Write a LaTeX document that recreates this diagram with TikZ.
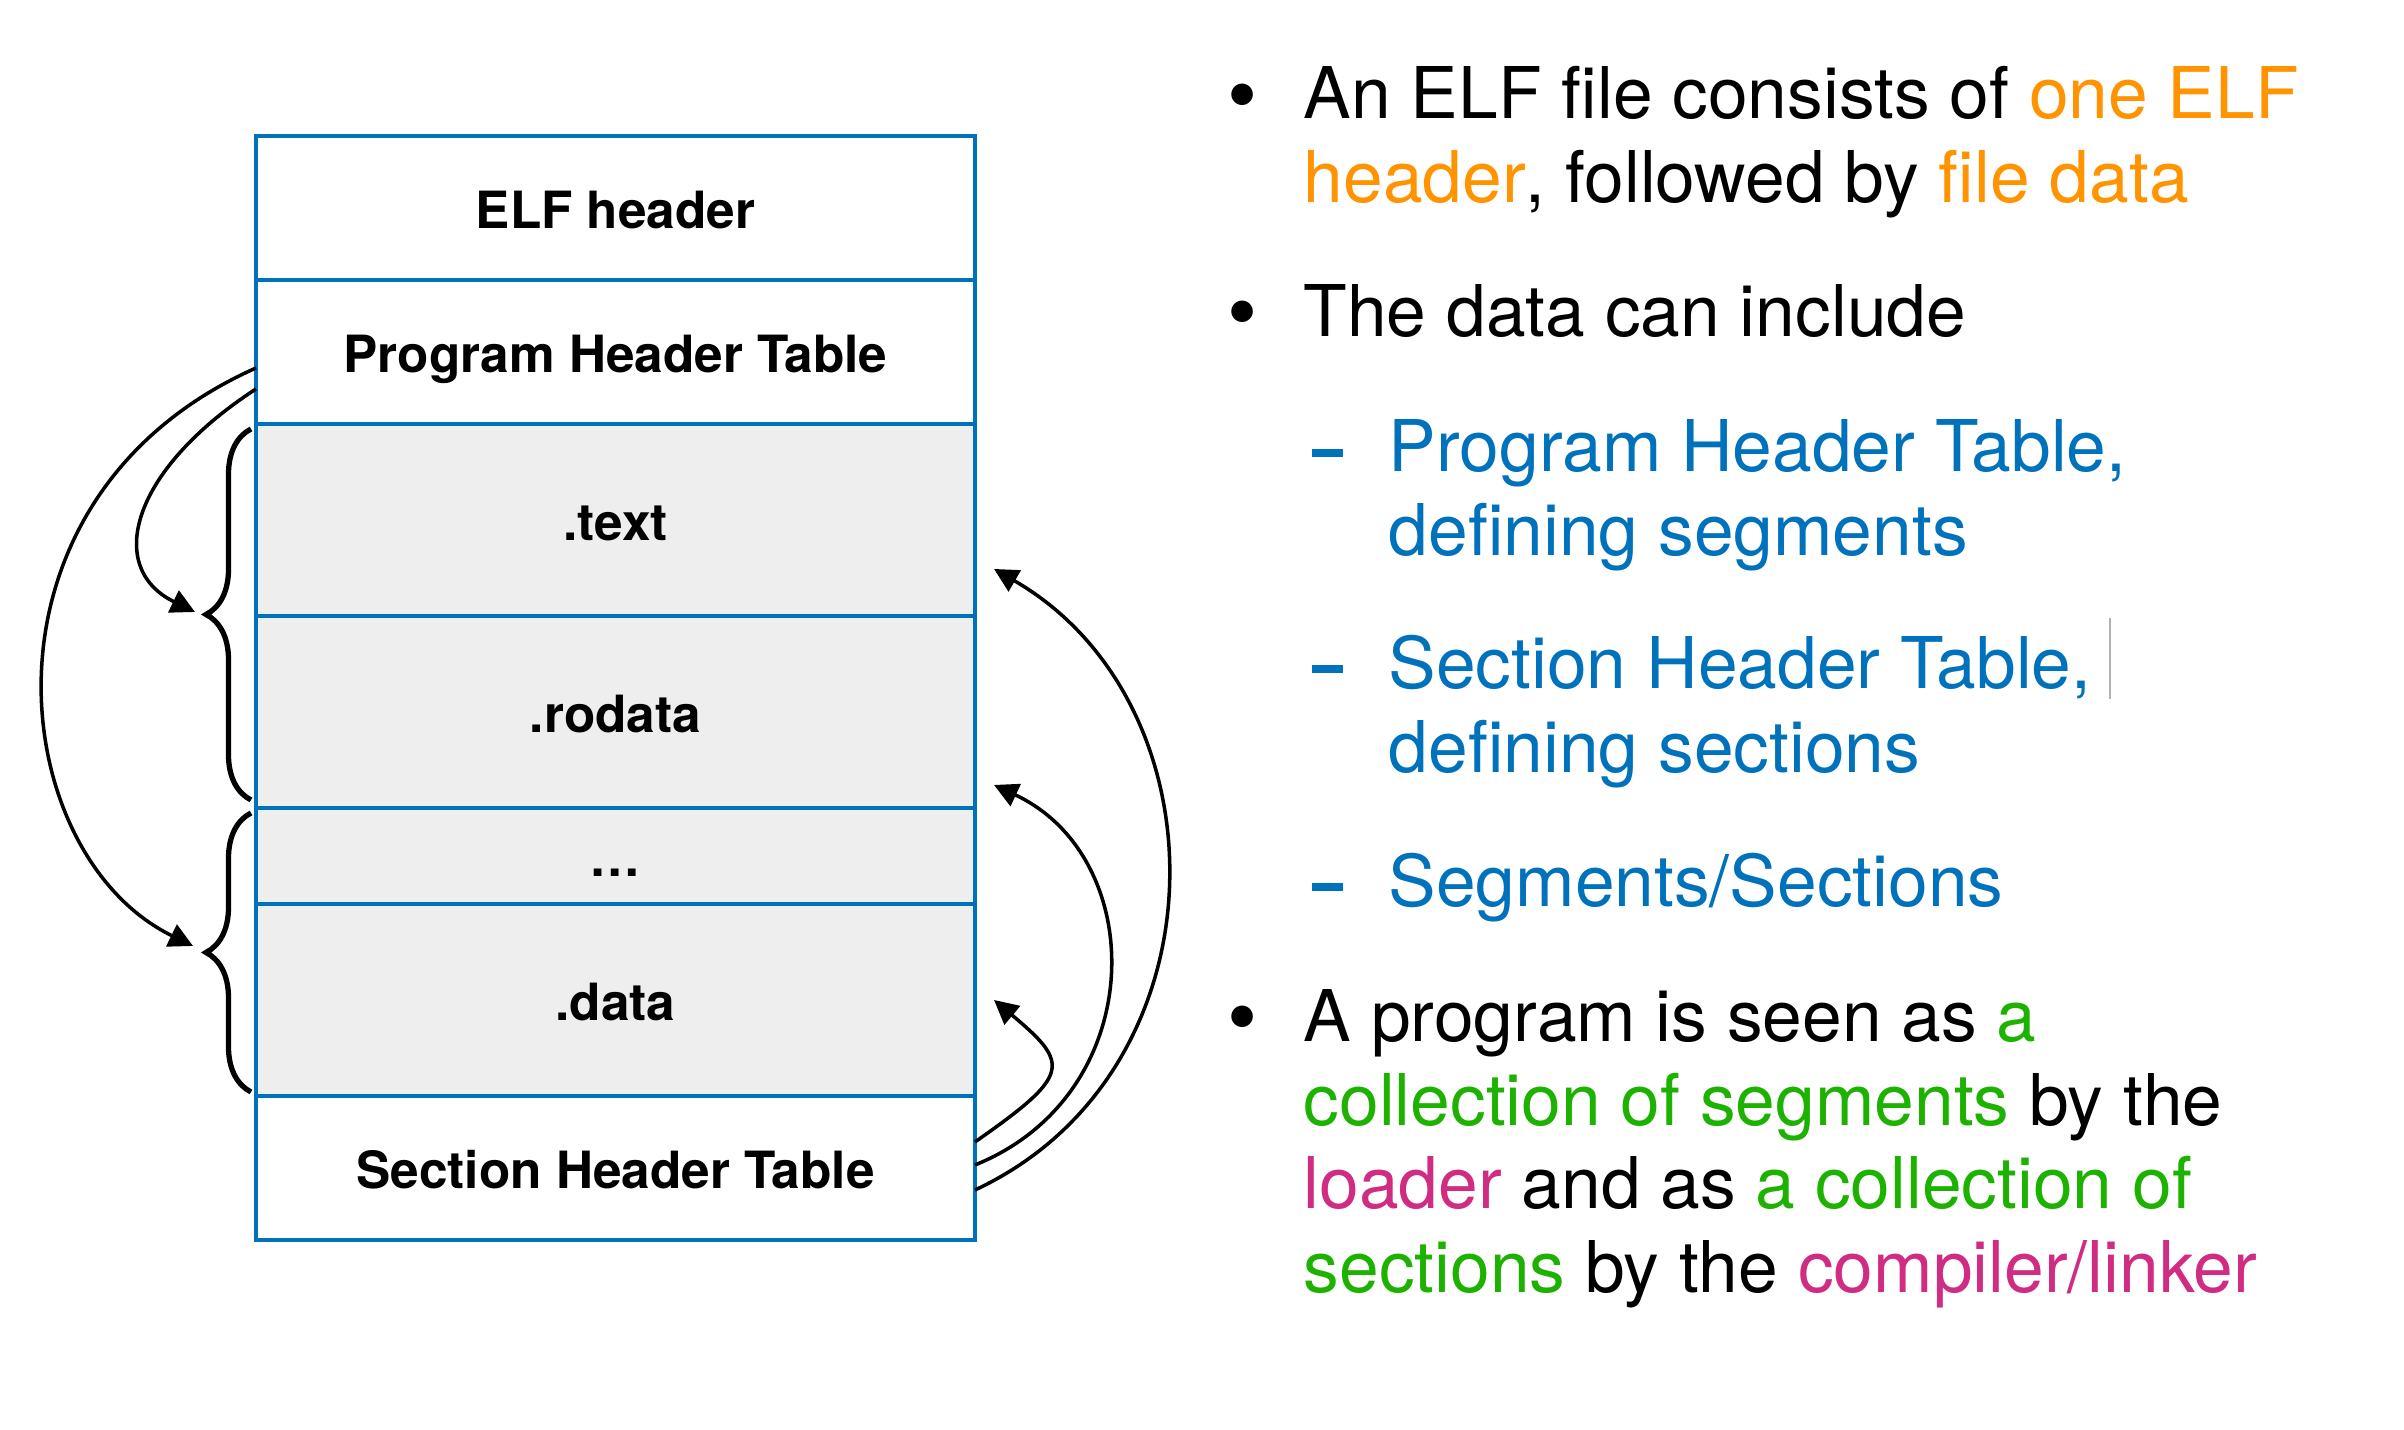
\documentclass[tikz,border=0pt]{standalone}
\usepackage{fontspec}
\setmainfont{TeX Gyre Heros}
\usetikzlibrary{positioning,arrows.meta,decorations.pathreplacing}
\definecolor{boxblue}{RGB}{0,114,188}
\definecolor{keyorange}{RGB}{255,147,0}
\definecolor{keygreen}{RGB}{29,177,0}
\definecolor{keypink}{RGB}{207,44,130}
\definecolor{secgray}{RGB}{238,238,238}
\tikzset{
  row/.style={draw=boxblue, line width=1.1pt, minimum width=7.19cm, inner sep=0pt, outer sep=0pt,
    text height=14.6pt, text depth=3.2pt, font=\fontsize{14.6}{17}\selectfont\bfseries},
  sec/.style={row, fill=secgray},
  arr/.style={-{Triangle[length=2.4mm,width=2.4mm]}, line width=1pt},
  curly/.style={decorate, decoration={brace, amplitude=4.5mm}, line width=1.5pt},
  body/.style={anchor=north west, inner sep=0pt, align=left, font=\fontsize{20.3}{23.8}\selectfont},
  dot/.style={inner sep=0pt, font=\fontsize{24.5}{24}\selectfont},
  subdash/.style={inner sep=0pt, text=boxblue},
}
\begin{document}
\begin{tikzpicture}
\useasboundingbox (0,0) rectangle (24.04,14.30);
%file layout
\node[row, minimum height=1.44cm] (elf) at (6.155,12.22) {ELF header};
\node[row, minimum height=1.44cm, below=0pt of elf] (pht) {Program Header Table};
\node[sec, minimum height=1.92cm, below=0pt of pht] (txt) {.text};
\node[sec, minimum height=1.92cm, below=0pt of txt] (rodata) {.rodata};
\node[sec, minimum height=0.96cm, below=0pt of rodata] (dots) {…};
\node[sec, minimum height=1.92cm, below=0pt of dots] (data) {.data};
\node[row, minimum height=1.44cm, below=0pt of data] (sht) {Section Header Table};
%segments
\draw[curly] ([xshift=-0.5mm,yshift=0.8mm]rodata.south west) -- ([xshift=-0.5mm,yshift=-0.5mm]txt.north west);
\draw[curly] ([xshift=-0.5mm,yshift=0.4mm]data.south west) -- ([xshift=-0.5mm,yshift=-0.5mm]dots.north west);
\coordinate (segtip) at (1.95,8.18);
\coordinate (sectip) at (1.93,4.84);
\draw[arr] ([yshift=-3.7mm]pht.west) to[out=213,in=154,out distance=1.5cm,in distance=1.0cm] (segtip);
\draw[arr] ([yshift=-1.6mm]pht.west) to[out=204,in=154,out distance=3.2cm,in distance=2.1cm] (sectip);
%sections
\draw[arr] ([yshift=-2.2mm]sht.east) to[out=25,in=-30,out distance=2.79cm,in distance=2.70cm] ([xshift=1.9mm,yshift=4.7mm]txt.south east);
\draw[arr] ([yshift=0.3mm]sht.east) to[out=22,in=-25,out distance=1.89cm,in distance=1.72cm] ([xshift=1.9mm,yshift=2.3mm]rodata.south east);
\draw[arr] ([yshift=2.6mm]sht.east) to[out=35,in=-40,out distance=1.17cm,in distance=1.0cm] ([xshift=1.9mm]data.east);
%text
\node[dot] (b1) at (12.43,13.26) {•};
\node[body] (p1) at (13.03,13.64) {An ELF file consists of \textcolor{keyorange}{one ELF}\\\textcolor{keyorange}{header}, followed by \textcolor{keyorange}{file data}};
\node[dot] (b2) at (12.43,11.09) {•};
\node[body] (p2) at (13.03,11.46) {The data can include};
\node[subdash] (d1) at (13.275,9.77) {\rule{3.1mm}{0.8mm}};
\node[body, text=boxblue] (p3) at (13.88,10.11) {Program Header Table,\\defining segments};
\node[subdash] (d2) at (13.275,7.61) {\rule{3.1mm}{0.8mm}};
\node[body, text=boxblue] (p4) at (13.88,7.95) {Section Header Table,\\defining sections};
\draw[gray!60, line width=0.4pt] (21.10,8.12) -- (21.10,7.31);
\node[subdash] (d3) at (13.275,5.43) {\rule{3.1mm}{0.8mm}};
\node[body, text=boxblue] (p5) at (13.88,5.77) {Segments/Sections};
\node[dot] (b3) at (12.43,4.04) {•};
\node[body] (p6) at (13.03,4.41) {A program is seen as \textcolor{keygreen}{a}\\\textcolor{keygreen}{collection of segments} by the\\\textcolor{keypink}{loader} and as \textcolor{keygreen}{a collection of}\\\textcolor{keygreen}{sections} by the \textcolor{keypink}{compiler/linker}};
\end{tikzpicture}
\end{document}
